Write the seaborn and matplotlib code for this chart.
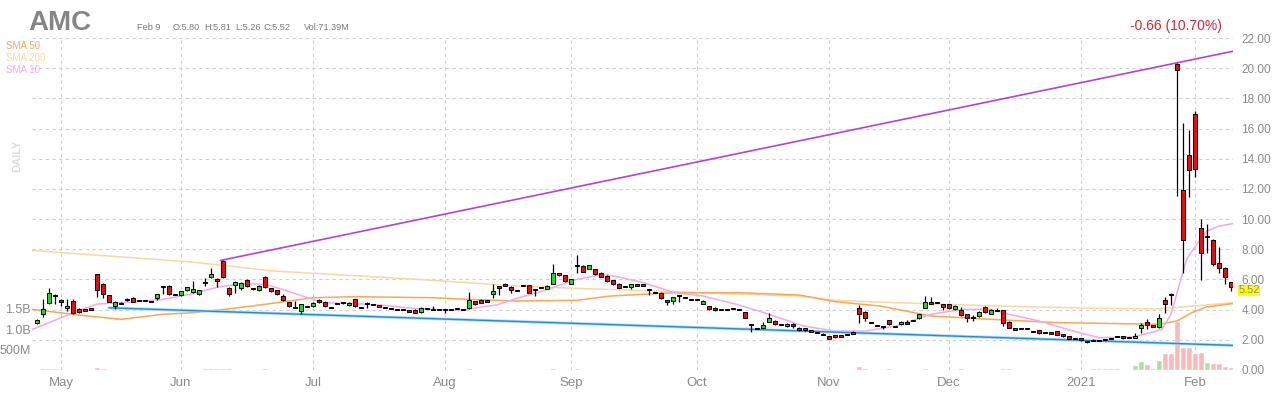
import numpy as np
import pandas as pd
import matplotlib
matplotlib.use("Agg")
import matplotlib.pyplot as plt
import matplotlib.transforms as mtransforms
import seaborn as sns

# first trading session of each month (index into the daily series)
month_idx = [4, 24, 46, 68, 89, 110, 132, 152, 174, 193]
month_lbl = ['May', 'Jun', 'Jul', 'Aug', 'Sep', 'Oct', 'Nov', 'Dec', '2021', 'Feb']

# daily OHLC, Apr 27 2020 .. Feb 9 2021
opens = [
    3.14, 3.73, 4.42, 4.95, 4.57, 4.09, 4.57, 4.02, 3.98, 4.04,
    6.34, 5.68, 4.97, 4.24, 4.42, 4.66, 4.75, 4.62, 4.62, 4.53,
    4.75, 5.54, 5.57, 5.01, 4.97, 5.28, 5.19, 5.06, 5.79, 6.19,
    5.96, 7.22, 5.41, 5.61, 5.41, 5.94, 5.39, 5.28, 6.16, 5.41,
    5.28, 4.88, 4.48, 4.13, 3.91, 4.22, 4.24, 4.64, 4.53, 4.13,
    4.42, 4.46, 4.29, 4.68, 4.13, 4.42, 4.33, 4.29, 4.13, 4.09,
    4.00, 4.00, 3.91, 3.98, 3.82, 4.06, 4.02, 4.00, 4.02, 4.02,
    4.06, 4.02, 4.09, 4.55, 4.62, 4.57, 5.01, 5.50, 5.63, 5.50,
    5.28, 5.61, 5.61, 5.32, 5.46, 5.39, 5.72, 6.41, 6.27, 5.72,
    6.94, 6.89, 6.72, 6.67, 6.45, 6.23, 5.94, 5.72, 5.52, 5.50,
    5.63, 5.63, 5.32, 5.15, 5.12, 4.57, 4.60, 4.93, 4.82, 4.66,
    4.66, 4.40, 4.22, 4.13, 4.00, 4.02, 4.06, 4.02, 3.82, 3.03,
    2.76, 2.81, 3.20, 3.25, 3.03, 2.89, 3.07, 2.81, 2.76, 2.58,
    2.47, 2.36, 2.23, 2.25, 2.25, 2.36, 2.45, 4.13, 3.87, 3.14,
    2.96, 2.87, 3.29, 2.89, 3.03, 3.11, 3.27, 3.42, 4.13, 4.44,
    4.46, 4.35, 4.35, 4.02, 3.95, 3.69, 3.47, 3.56, 4.18, 3.73,
    3.95, 3.95, 3.18, 2.72, 2.76, 2.74, 2.54, 2.63, 2.50, 2.45,
    2.56, 2.36, 2.23, 2.08, 2.10, 1.88, 1.99, 1.97, 2.03, 2.10,
    2.23, 2.23, 2.16, 2.17, 2.76, 3.20, 2.92, 2.85, 4.62, 5.01,
    20.30, 11.90, 14.22, 16.95, 9.38, 8.80, 8.59, 7.07, 6.78, 5.80,
]
highs = [
    3.36, 4.68, 5.46, 5.06, 4.68, 4.68, 4.68, 4.08, 4.04, 4.10,
    6.38, 5.75, 5.00, 4.55, 4.48, 4.75, 4.82, 4.66, 4.66, 4.57,
    5.06, 5.57, 5.60, 5.06, 5.25, 5.52, 5.90, 5.32, 6.12, 6.78,
    6.12, 7.29, 5.48, 5.88, 5.85, 6.00, 5.45, 5.60, 6.22, 5.46,
    5.32, 5.01, 4.52, 4.57, 4.40, 4.26, 4.50, 4.70, 4.57, 4.18,
    4.46, 4.50, 4.50, 4.72, 4.18, 4.53, 4.37, 4.33, 4.17, 4.13,
    4.04, 4.04, 3.95, 4.02, 4.15, 4.10, 4.24, 4.04, 4.06, 4.06,
    4.10, 4.06, 5.19, 4.60, 4.70, 4.62, 5.72, 5.56, 5.75, 5.55,
    5.32, 5.66, 5.65, 5.36, 5.50, 5.62, 7.00, 6.46, 6.31, 6.06,
    7.60, 6.94, 6.98, 6.72, 6.50, 6.28, 5.99, 5.77, 5.57, 5.72,
    5.68, 5.68, 5.36, 5.19, 5.16, 4.61, 4.84, 4.98, 4.86, 4.70,
    4.70, 4.62, 4.26, 4.17, 4.04, 4.06, 4.10, 4.06, 3.86, 3.07,
    2.80, 3.20, 3.78, 3.30, 3.07, 3.11, 3.11, 2.85, 2.80, 2.62,
    2.51, 2.45, 2.27, 2.34, 2.29, 2.40, 2.58, 4.29, 3.92, 3.18,
    3.00, 2.91, 3.33, 2.93, 3.22, 3.31, 3.31, 3.73, 4.90, 4.84,
    4.50, 4.39, 4.39, 4.28, 4.15, 3.73, 3.65, 3.91, 4.22, 4.04,
    4.13, 3.99, 3.22, 2.76, 2.80, 2.78, 2.58, 2.67, 2.54, 2.49,
    2.60, 2.40, 2.27, 2.12, 2.14, 1.95, 2.03, 2.01, 2.07, 2.14,
    2.27, 2.27, 2.20, 2.43, 3.14, 3.36, 2.96, 3.69, 4.84, 5.12,
    20.36, 16.40, 15.90, 17.15, 9.98, 9.65, 8.66, 8.17, 6.80, 5.81,
]
lows = [
    3.03, 3.51, 4.35, 4.35, 4.24, 3.91, 3.73, 3.78, 3.92, 3.98,
    4.84, 4.79, 4.48, 4.02, 4.38, 4.55, 4.48, 4.57, 4.57, 4.50,
    4.62, 5.01, 4.99, 4.97, 4.93, 5.24, 5.12, 4.99, 5.57, 6.12,
    5.50, 6.10, 4.90, 5.12, 5.30, 5.50, 5.33, 5.22, 5.45, 5.18,
    4.95, 4.60, 4.15, 4.08, 3.69, 4.17, 4.20, 4.45, 4.15, 4.08,
    4.35, 4.40, 4.25, 4.15, 4.08, 4.13, 4.28, 4.16, 4.09, 4.05,
    3.96, 3.96, 3.87, 3.76, 3.78, 4.02, 3.98, 3.96, 3.80, 3.98,
    4.02, 3.98, 4.05, 4.30, 4.42, 4.52, 4.75, 4.97, 5.58, 5.10,
    5.24, 5.56, 5.08, 4.91, 5.42, 5.35, 5.68, 6.22, 5.80, 5.68,
    6.41, 6.47, 6.68, 6.30, 6.14, 5.85, 5.63, 5.41, 5.48, 5.40,
    5.58, 5.58, 4.95, 5.11, 4.70, 4.30, 4.40, 4.53, 4.78, 4.62,
    4.62, 4.36, 3.98, 3.91, 3.96, 3.98, 4.02, 3.98, 3.43, 2.54,
    2.72, 2.77, 3.16, 2.99, 2.99, 2.85, 2.78, 2.61, 2.59, 2.54,
    2.43, 2.30, 2.04, 2.15, 2.18, 2.32, 2.38, 3.14, 3.25, 3.10,
    2.92, 2.70, 2.99, 2.85, 2.99, 3.07, 3.23, 3.38, 4.09, 4.40,
    4.42, 4.00, 4.05, 3.98, 3.58, 3.20, 3.25, 3.52, 3.78, 3.69,
    3.91, 2.92, 2.77, 2.68, 2.72, 2.70, 2.50, 2.41, 2.46, 2.41,
    2.30, 2.19, 2.04, 2.04, 1.93, 1.79, 1.93, 1.93, 1.99, 2.06,
    2.19, 2.06, 2.12, 2.13, 2.47, 2.69, 2.88, 2.76, 3.80, 4.31,
    11.50, 6.44, 11.48, 12.80, 5.94, 7.77, 6.89, 6.44, 5.67, 5.26,
]
closes = [
    3.29, 4.02, 5.08, 4.93, 4.57, 4.24, 3.80, 3.87, 3.98, 4.04,
    5.28, 5.06, 4.53, 4.51, 4.42, 4.66, 4.53, 4.62, 4.62, 4.53,
    5.02, 5.54, 5.01, 5.01, 5.21, 5.50, 5.35, 5.28, 5.79, 6.34,
    5.96, 6.19, 5.06, 5.83, 5.74, 5.57, 5.39, 5.54, 5.50, 5.24,
    5.01, 4.66, 4.22, 4.13, 4.35, 4.22, 4.46, 4.51, 4.24, 4.13,
    4.42, 4.46, 4.46, 4.25, 4.13, 4.42, 4.33, 4.20, 4.13, 4.09,
    4.00, 4.00, 3.91, 3.80, 4.09, 4.06, 4.02, 4.00, 4.02, 4.02,
    4.06, 4.02, 4.62, 4.40, 4.46, 4.57, 5.24, 5.50, 5.63, 5.28,
    5.28, 5.61, 5.12, 5.32, 5.46, 5.57, 6.41, 6.27, 5.90, 6.01,
    6.94, 6.52, 6.94, 6.34, 6.19, 5.90, 5.68, 5.46, 5.52, 5.68,
    5.63, 5.63, 5.32, 5.15, 4.75, 4.57, 4.82, 4.93, 4.82, 4.66,
    4.66, 4.57, 4.06, 3.95, 4.00, 4.02, 4.06, 4.02, 3.47, 3.03,
    2.76, 2.98, 3.42, 3.03, 3.03, 3.07, 2.89, 2.65, 2.63, 2.58,
    2.47, 2.36, 2.08, 2.25, 2.25, 2.36, 2.45, 3.69, 3.42, 3.14,
    2.96, 2.87, 3.03, 2.89, 3.18, 3.11, 3.27, 3.69, 4.51, 4.44,
    4.46, 4.20, 4.09, 4.24, 3.62, 3.47, 3.47, 3.87, 3.82, 4.00,
    3.95, 3.14, 2.81, 2.72, 2.76, 2.74, 2.54, 2.45, 2.50, 2.45,
    2.34, 2.23, 2.08, 2.08, 1.97, 1.88, 1.97, 1.97, 2.03, 2.10,
    2.23, 2.10, 2.16, 2.21, 2.98, 2.98, 2.92, 3.42, 4.35, 4.96,
    19.85, 8.59, 13.22, 13.29, 7.73, 8.85, 7.00, 6.73, 6.18, 5.52,
]
# daily volume, millions
volume_m = [
    30, 60, 60, 40, 30, 30, 35, 25, 20, 20,
    80, 50, 35, 30, 20, 20, 25, 15, 15, 15,
    25, 35, 30, 20, 20, 25, 30, 25, 40, 55,
    40, 60, 40, 30, 25, 25, 20, 20, 40, 25,
    25, 25, 25, 20, 30, 15, 20, 20, 20, 15,
    15, 15, 15, 20, 15, 15, 10, 10, 10, 10,
    10, 10, 10, 10, 15, 10, 10, 10, 10, 10,
    10, 10, 40, 20, 15, 10, 35, 25, 20, 20,
    15, 15, 20, 15, 15, 15, 45, 25, 20, 20,
    45, 30, 20, 20, 20, 20, 15, 15, 15, 15,
    15, 15, 20, 15, 20, 20, 15, 15, 15, 10,
    10, 10, 15, 15, 10, 10, 10, 10, 30, 35,
    20, 20, 30, 20, 15, 15, 15, 15, 15, 15,
    15, 15, 20, 15, 15, 15, 20, 90, 40, 25,
    20, 20, 40, 20, 20, 20, 20, 30, 60, 35,
    25, 25, 25, 25, 60, 35, 25, 25, 30, 25,
    20, 60, 40, 20, 15, 15, 20, 20, 15, 15,
    20, 20, 40, 15, 25, 30, 60, 40, 40, 40,
    40, 35, 30, 130, 230, 150, 60, 240, 430, 430,
    1210, 570, 570, 410, 450, 200, 165, 180, 110, 71.39,
]

# moving averages, sampled off the chart (x = session index)
sma10_x = [-0.8, 0, 5, 10, 15.5, 21, 26, 30, 34, 38, 41.6, 44.4, 47.7, 53, 57.8,
           63.3, 70.5, 73.3, 76.6, 79.7, 84.4, 90, 94.4, 97, 101, 106.3, 111,
           116.6, 122, 127.7, 133, 138, 143.3, 148.9, 154.4, 159, 161.6, 167,
           172.7, 177, 182.7, 186.3, 187.5, 189, 190, 191.6, 193.3, 195, 197, 199.3]
sma10_y = [2.70, 2.81, 3.62, 4.37, 4.50, 4.68, 5.06, 5.48, 5.72, 5.68, 5.26, 4.88,
           4.46, 4.40, 4.29, 4.06, 3.95, 4.13, 4.31, 4.72, 5.24, 6.01, 6.34, 6.16,
           5.79, 5.12, 4.90, 4.35, 3.69, 2.92, 2.58, 2.58, 2.92, 3.69, 4.02, 4.02,
           3.73, 3.25, 2.58, 2.14, 2.19, 2.55, 2.72, 3.69, 5.10, 7.33, 8.33, 9.21,
           9.54, 9.70]
sma50_x = [-0.8, 7, 14, 21, 26, 32, 38, 46, 53, 60, 66, 72, 80, 90, 95.5, 106,
           117, 127, 133, 140.5, 149, 159, 170, 187, 190, 192.5, 194.8, 199.3]
sma50_y = [4.02, 3.64, 3.36, 3.69, 3.80, 4.05, 4.35, 4.79, 4.86, 4.82, 4.79, 4.68,
           4.57, 4.62, 4.90, 5.12, 5.12, 4.97, 4.53, 4.24, 3.58, 3.36, 3.14, 3.03,
           3.25, 3.80, 4.17, 4.40]
sma200_x = [-0.8, 26, 39.4, 53, 66, 80, 90, 106, 117, 127, 133, 143, 160, 176,
            187, 195, 199.3]
sma200_y = [7.92, 7.15, 6.56, 6.25, 5.94, 5.57, 5.41, 5.19, 5.03, 4.90, 4.62, 4.46,
            4.24, 4.09, 4.05, 4.31, 4.46]

# drawn trendlines
resist_x = [30.6, 199.3]
resist_y = [7.26, 21.12]
support_x = [12, 199.3]
support_y = [4.12, 1.63]

sns.set_style('white')
plt.rcParams['font.family'] = ['Liberation Sans', 'DejaVu Sans']
GREY = '#8a8a8a'

idx = np.arange(len(closes))
o = np.array(opens)
c = np.array(closes)
h = np.array(highs)
l = np.array(lows)

fig = plt.figure(figsize=(12.8, 4), dpi=100)
rect = [32 / 1280, 30 / 400, 1201 / 1280, 332 / 400]
axv = fig.add_axes(rect)
ax = fig.add_axes(rect, sharex=axv)
ax.patch.set_alpha(0)

# volume bars underneath
vol_df = pd.DataFrame({'idx': idx, 'vol': volume_m,
                       'dir': np.where(c >= o, 'up', 'down')})
sns.barplot(data=vol_df, x='idx', y='vol', hue='dir',
            palette={'up': '#a8e0a0', 'down': '#f9b9b9'},
            native_scale=True, dodge=False, width=0.85, saturation=1,
            errorbar=None, legend=False, ax=axv)
axv.set_ylim(0, 8160)
axv.set_yticks([500, 1000, 1500])
axv.set_yticklabels(['500M', '1.0B', '1.5B'])
axv.tick_params(axis='y', length=0, pad=1, labelsize=9, labelcolor=GREY)
axv.tick_params(axis='x', length=0, labelbottom=False)
axv.set_xlabel('')
axv.set_ylabel('')
for s in axv.spines.values():
    s.set_visible(False)

# moving averages
sns.lineplot(x=sma200_x, y=sma200_y, color='#f6d9a2', lw=1.1, sort=False,
             estimator=None, ax=ax, zorder=2)
sns.lineplot(x=sma50_x, y=sma50_y, color='#ffa552', lw=1.1, sort=False,
             estimator=None, ax=ax, zorder=2)
sns.lineplot(x=sma10_x, y=sma10_y, color='#f5a8e6', lw=1.1, sort=False,
             estimator=None, ax=ax, zorder=2)

# trendlines
ax.plot(support_x, support_y, color='#b8ddf7', lw=2.2, zorder=2.5)
ax.plot(support_x, support_y, color='#1a8ee0', lw=1.0, zorder=2.6)
ax.plot(resist_x, resist_y, color='#b543d6', lw=1.2, zorder=2.6)

# candles
ax.vlines(idx, l, h, color='black', lw=0.9, zorder=4)
body = np.abs(c - o)
body_h = np.maximum(body, 0.08)
body_lo = np.minimum(o, c) - (body_h - body) / 2
ax.bar(idx, body_h, bottom=body_lo, width=0.68,
       color=np.where(c > o, '#19dd19', '#ee0a0a'),
       edgecolor='black', linewidth=0.7, zorder=5)

ax.set_xlim(-0.83, 199.33)
ax.set_ylim(0, 22)
ax.set_xticks(month_idx)
ax.set_xticklabels(month_lbl)
ax.yaxis.tick_right()
ax.set_yticks(range(0, 23, 2))
ax.set_yticklabels([f'{v:.2f}' for v in range(0, 23, 2)])
ax.tick_params(axis='y', length=0, pad=6, labelsize=8.5, labelcolor=GREY)
ax.tick_params(axis='x', length=0, pad=5, labelsize=9.5, labelcolor=GREY)
ax.set_xlabel('')
ax.set_ylabel('')
ax.set_axisbelow(True)
ax.grid(True, ls=(0, (3, 3)), color='#cfcfcf', lw=0.8)
for s in ax.spines.values():
    s.set_visible(False)

# last price tag, nudged just under the 6.00 tick label
trans = mtransforms.blended_transform_factory(ax.transAxes, ax.transData)
ax.text(1.0045, closes[-1] - 0.25, f'{closes[-1]:.2f}', transform=trans,
        ha='left', va='center', fontsize=8, color=GREY, zorder=6,
        bbox=dict(boxstyle='square,pad=0.05', fc='#ffff00', ec='none'))


def px(x, y):
    return x / 1280, 1 - y / 400


fig.text(*px(28, 30), 'AMC', fontsize=20, fontweight='bold', color='#858585',
         va='baseline')
for x, s in [(137, 'Feb 9'), (173, 'O:5.80'), (204, 'H:5.81'), (235, 'L:5.26'),
             (263, 'C:5.52'), (304, 'Vol:71.39M')]:
    fig.text(*px(x, 30), s, fontsize=6.6, color='#7a7a7a', va='baseline')
for y, s, col in [(46, 'SMA 50', '#ffa552'), (58, 'SMA 200', '#f6d9a2'),
                  (70, 'SMA 10', '#f5a8e6')]:
    fig.text(*px(6, y), s, fontsize=7, color=col, va='center')
fig.text(*px(1222, 26), '-0.66 (10.70%)', fontsize=10, color='#d9262b',
         ha='right', va='center')
fig.text(*px(17, 156), 'DAILY', rotation=90, fontsize=8, fontweight='bold',
         color='#dcdcdc', ha='center', va='center')

fig.savefig('out.png', dpi=100)
